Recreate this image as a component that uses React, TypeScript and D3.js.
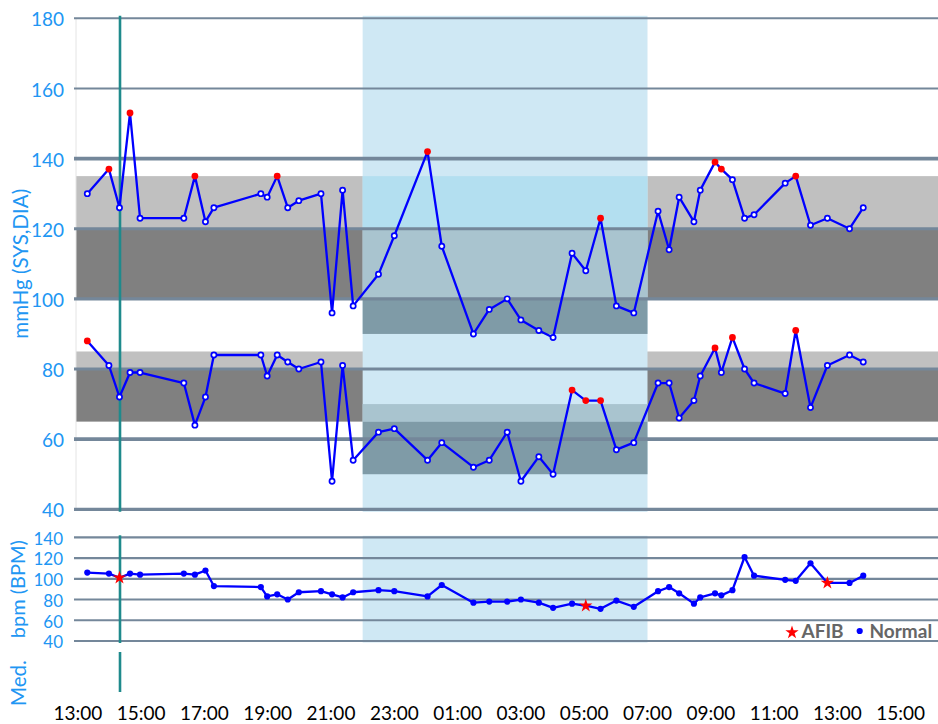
import * as d3 from 'd3';
import React from 'react';

const width = 938;
const height = 724;

// reading times, HH:MM (rolls over midnight)
const times = ['13:18', '13:59', '14:19', '14:39', '14:58', '16:21', '16:42', '17:02', '17:18', '18:47',
  '18:59', '19:18', '19:38', '19:59', '20:41', '21:02', '21:22', '21:42', '22:30', '23:00',
  '00:03', '00:30', '01:30', '02:00', '02:34', '03:00', '03:34', '04:01', '04:37', '05:03',
  '05:31', '06:01', '06:34', '07:20', '07:41', '08:00', '08:28', '08:40', '09:08', '09:20',
  '09:41', '10:04', '10:22', '11:21', '11:41', '12:09', '12:41', '13:23', '13:49'];
const systolic = [130, 137, 126, 153, 123, 123, 135, 122, 126, 130, 129, 135, 126, 128, 130, 96, 131, 98, 107, 118,
  142, 115, 90, 97, 100, 94, 91, 89, 113, 108, 123, 98, 96, 125, 114, 129, 122, 131, 139, 137,
  134, 123, 124, 133, 135, 121, 123, 120, 126];
const diastolic = [88, 81, 72, 79, 79, 76, 64, 72, 84, 84, 78, 84, 82, 80, 82, 48, 81, 54, 62, 63,
  54, 59, 52, 54, 62, 48, 55, 50, 74, 71, 71, 57, 59, 76, 76, 66, 71, 78, 86, 79,
  89, 80, 76, 73, 91, 69, 81, 84, 82];
const heartRate = [106, 105, 101, 105, 104, 105, 104, 108, 93, 92, 83, 85, 80, 87, 88, 85, 82, 87, 89, 88,
  83, 94, 77, 78, 78, 80, 77, 72, 76, 74, 71, 79, 73, 88, 92, 86, 76, 82, 86, 84,
  89, 121, 103, 99, 98, 115, 96, 96, 103];
const afibTimes = ['14:19', '05:03', '12:41'];
const medTimes = ['14:20'];

// thresholds: [low, high] for each band
const daySysBands = [[120, 135, '#c0c0c0'], [100, 120, '#808080']];
const dayDiaBands = [[80, 85, '#c0c0c0'], [65, 80, '#808080']];
const nightBands = [[120, 135, '#b3dff0'], [100, 120, '#a9c4cf'], [90, 100, '#7f9ba7'], [65, 70, '#a9c4cf'], [50, 65, '#7f9ba7']];
const dayLimits = { sys: 135, dia: 85 };
const nightLimits = { sys: 120, dia: 70 };

const bpTicks = [180, 160, 140, 120, 100, 80, 60, 40];
const bpmTicks = [140, 120, 100, 80, 60, 40];

const toDates = (list: string[]) => {
  let day = 0;
  let prev = -1;
  return list.map(s => {
    const [h, m] = s.split(':').map(Number);
    const mins = h * 60 + m;
    if (mins < prev) day++;
    prev = mins;
    return new Date(2024, 0, 1 + day, h, m);
  });
};

const dates = toDates(times);
const medDates = toDates(medTimes);
const nightStart = new Date(2024, 0, 1, 22);
const nightEnd = new Date(2024, 0, 2, 7);
const isNight = (d: Date) => d >= nightStart && d < nightEnd;

const FONT = 'Lato, "Open Sans", sans-serif';
const BLUE_TXT = '#2196f3';
const GRID = '#74879a';

const App: React.FC = () => {
  const x = d3.scaleTime()
    .domain([new Date(2024, 0, 1, 13), new Date(2024, 0, 2, 15)])
    .range([77.8, 900.7]);
  const y = d3.scaleLinear().domain([40, 180]).range([509.3, 18.3]);
  const yb = d3.scaleLinear().domain([40, 140]).range([641, 537.3]);

  const gridLeft = 74;
  const bandLeft = 76;
  const xn0 = x(nightStart);
  const xn1 = x(nightEnd);

  const sysPts = dates.map((d, i) => ({ d, v: systolic[i] }));
  const diaPts = dates.map((d, i) => ({ d, v: diastolic[i] }));
  const bpmPts = dates.map((d, i) => ({ d, v: heartRate[i], afib: afibTimes.includes(times[i]) }));

  const line = d3.line<{ d: Date; v: number }>().x(p => x(p.d)).y(p => y(p.v));
  const lineB = d3.line<{ d: Date; v: number }>().x(p => x(p.d)).y(p => yb(p.v));
  const star = d3.symbol().type(d3.symbolStar).size(55)();

  const xTicks = d3.timeHour.range(x.domain()[0], new Date(+x.domain()[1] + 1), 2);
  const fmt = d3.timeFormat('%H:%M');

  const bpWidth = (v: number) => (v === 180 || v === 160 ? 2 : v === 140 || v === 60 ? 3.6 : 3.2);

  const high = (kind: 'sys' | 'dia', p: { d: Date; v: number }) =>
    isNight(p.d) ? p.v > nightLimits[kind] : p.v >= dayLimits[kind];

  return (
    <div style={{ position: 'absolute', left: 0, top: 0 }}>
      <svg width={width} height={height} style={{ display: 'block', background: '#fff' }} fontFamily={FONT}>
        {/* day threshold bands */}
        {[...daySysBands, ...dayDiaBands].map(([lo, hi, c], i) => (
          <rect key={'db' + i} x={bandLeft} y={y(hi as number)} width={width - bandLeft}
            height={y(lo as number) - y(hi as number)} fill={c as string} />
        ))}
        <line x1={bandLeft} x2={bandLeft} y1={y(180)} y2={y(40)} stroke="#e4e4e4" strokeWidth={1} />

        {/* night shading */}
        <rect x={xn0} y={y(180) - 2.5} width={xn1 - xn0} height={y(40) - y(180) + 5} fill="#cfe8f4" />
        {nightBands.map(([lo, hi, c], i) => (
          <rect key={'nb' + i} x={xn0} y={y(hi as number)} width={xn1 - xn0}
            height={y(lo as number) - y(hi as number)} fill={c as string} />
        ))}
        <rect x={xn0} y={yb(140) - 1.5} width={xn1 - xn0} height={yb(40) - yb(140) + 3} fill="#cfe8f4" />

        {/* grid lines */}
        {bpTicks.map(v => (
          <line key={'g' + v} x1={gridLeft} x2={width} y1={y(v)} y2={y(v)} stroke={GRID} strokeWidth={bpWidth(v)} />
        ))}
        {bpmTicks.map(v => (
          <line key={'gb' + v} x1={gridLeft} x2={width} y1={yb(v)} y2={yb(v)} stroke={GRID} strokeWidth={2.2} />
        ))}

        {/* medication marker */}
        {medDates.map((d, i) => (
          <g key={'m' + i} stroke="#1f8a8c" strokeWidth={2.6}>
            <line x1={x(d)} x2={x(d)} y1={y(180) - 2.5} y2={y(40) + 2.5} />
            <line x1={x(d)} x2={x(d)} y1={yb(140) - 2} y2={yb(40) + 2} />
            <line x1={x(d)} x2={x(d)} y1={652} y2={692} />
          </g>
        ))}

        {/* blood pressure */}
        {[sysPts, diaPts].map((pts, k) => (
          <g key={'bp' + k}>
            <path d={line(pts) || ''} fill="none" stroke="#0000ff" strokeWidth={2.3} strokeLinejoin="round" />
            {pts.map((p, i) => high(k === 0 ? 'sys' : 'dia', p)
              ? <circle key={i} cx={x(p.d)} cy={y(p.v)} r={3.4} fill="#ff0000" />
              : <circle key={i} cx={x(p.d)} cy={y(p.v)} r={2.6} fill="#fff" stroke="#0000ff" strokeWidth={1.7} />)}
          </g>
        ))}

        {/* heart rate */}
        <path d={lineB(bpmPts) || ''} fill="none" stroke="#0000ff" strokeWidth={2.3} strokeLinejoin="round" />
        {bpmPts.map((p, i) => p.afib
          ? <path key={i} d={star || ''} transform={`translate(${x(p.d)},${yb(p.v)})`} fill="#ff0000" />
          : <circle key={i} cx={x(p.d)} cy={yb(p.v)} r={3.1} fill="#0000ff" />)}

        {/* legend */}
        <path d={star || ''} transform="translate(792,632.5)" fill="#ff0000" />
        <text x={801.5} y={637.5} fontSize={19} fontWeight="bold" fill="#666">AFIB</text>
        <circle cx={859.7} cy={631} r={3.1} fill="#0000ff" />
        <text x={869.5} y={637.5} fontSize={19} fontWeight="bold" fill="#666">Normal</text>

        {/* y tick labels */}
        {bpTicks.map(v => (
          <text key={'t' + v} x={64} y={y(v) + 1.5} dy="0.35em" textAnchor="end" fontSize={19} fill={BLUE_TXT}>{v}</text>
        ))}
        {bpmTicks.map(v => (
          <text key={'tb' + v} x={63} y={yb(v) + 1.5} dy="0.35em" textAnchor="end" fontSize={17} fill={BLUE_TXT}>{v}</text>
        ))}

        {/* axis titles */}
        <text transform={`translate(28,${(y(180) + y(40)) / 2}) rotate(-90)`} textAnchor="middle" fontSize={20.5} fill={BLUE_TXT}>mmHg (SYS,DIA)</text>
        <text transform={`translate(25,${(yb(140) + yb(40)) / 2}) rotate(-90)`} textAnchor="middle" fontSize={20} fill={BLUE_TXT}>bpm (BPM)</text>
        <text transform="translate(26,683) rotate(-90)" textAnchor="middle" fontSize={20.5} fill={BLUE_TXT}>Med.</text>

        {/* x tick labels */}
        {xTicks.map((t, i) => (
          <text key={'x' + i} x={x(t)} y={720} textAnchor="middle" fontSize={19} fill="#000">{fmt(t)}</text>
        ))}
      </svg>
    </div>
  );
};

export default App;
